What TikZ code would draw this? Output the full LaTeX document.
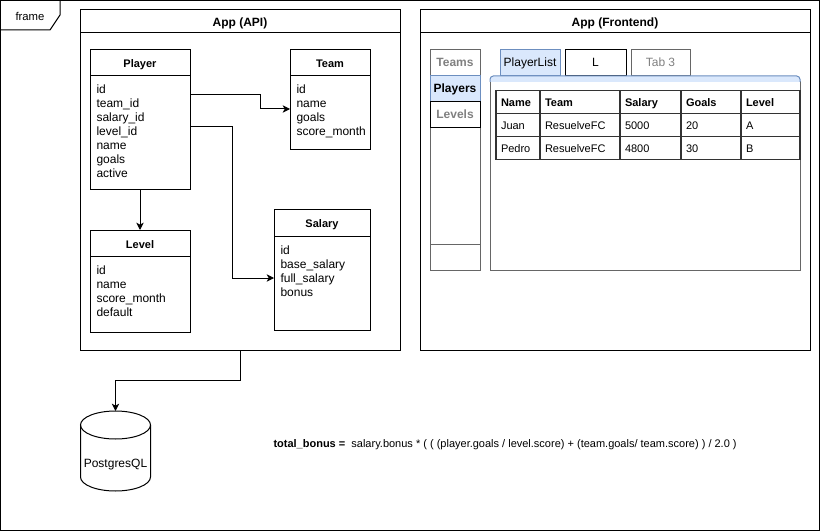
\documentclass[tikz,border=0pt]{standalone}
\usepackage{fontspec}
\setmainfont{Liberation Sans}
\usetikzlibrary{arrows.meta,shapes,positioning,calc}
\definecolor{tabblue}{HTML}{DAE8FC}
\definecolor{tabline}{HTML}{6C8EBF}
\definecolor{uigray}{HTML}{666666}
\definecolor{txtgray}{HTML}{808080}
\definecolor{cellline}{HTML}{333333}
\tikzset{
  pxw/.style    = {minimum width=#1*0.75pt},
  pxh/.style    = {minimum height=#1*0.75pt},
  basic/.style  = {draw, rectangle, inner sep=0pt, outer sep=0pt, line width=0.75pt},
  container/.style = {basic, anchor=north west},
  apptitle/.style  = {basic, anchor=north, pxh=23, text height=8pt, text depth=0pt,
                   font=\fontsize{9}{10}\selectfont\bfseries},
  ehead/.style  = {basic, anchor=north west, pxh=26, text height=7.5pt, text depth=0pt,
                   font=\fontsize{8.25}{10}\selectfont\bfseries},
  ebody/.style  = {basic, below=0pt of #1},
  field/.style  = {anchor=base west, inner sep=0pt, font=\fontsize{9}{10.5}\selectfont},
  sideitem/.style = {basic, anchor=north west, pxw=50, pxh=26, draw=uigray,
                   text height=7pt, text depth=1pt, font=\fontsize{9}{10}\selectfont\bfseries},
  tabbox/.style = {basic, anchor=north west, pxh=26, text height=7pt, text depth=1pt,
                   font=\fontsize{9}{10}\selectfont},
  cell/.style   = {basic, anchor=north west, pxh=23, draw=cellline, line width=1.3pt,
                   align=left, inner xsep=3.75pt, text height=7pt, text depth=0.5pt,
                   font=\fontsize{8.25}{10}\selectfont}
}

\begin{document}
\begin{tikzpicture}[x=0.75pt, y=-0.75pt, line width=0.75pt,
  >={Stealth[length=5.5pt, width=5.5pt, inset=1.5pt]}]
\useasboundingbox (0,0) rectangle (821,531);

% outer frame with its label
\draw (0.5,0.5) rectangle (819.5,530);
\draw (0.5,30) -- (50,30) -- (60,15) -- (60,0.5);
\node[font=\fontsize{8.5}{10}\selectfont] (frameLbl) at (30,16) {frame};

% the two containers
\node[container, pxw=320, pxh=340] (api) at (80,10) {};
\node[apptitle, pxw=320] (apiT) at (api.north) {App (API)};
\node[container, pxw=390, pxh=340] (fe) at (420,10) {};
\node[apptitle, pxw=390] (feT) at (fe.north) {App (Frontend)};

% entities of the API
\node[ehead, pxw=100] (plhead) at (90,50) {Player};
\node[ebody=plhead, pxw=100, pxh=114] (plbody) {};
\node[ehead, pxw=80] (tmhead) at (290,50) {Team};
\node[ebody=tmhead, pxw=80, pxh=74] (tmbody) {};
\node[ehead, pxw=100] (lvhead) at (90,230) {Level};
\node[ebody=lvhead, pxw=100, pxh=76] (lvbody) {};
\node[ehead, pxw=96] (sahead) at (274,210) {Salary};
\node[ebody=sahead, pxw=96, pxh=94] (sabody) {};

% fields, one node per line
\foreach \f [count=\i] in {id,team\_id,salary\_id,level\_id,name,goals,active}
  \node[field] (pl\i) at ($(plbody.north west)+(6,{4+14*\i})$) {\f};
\foreach \f [count=\i] in {id,name,goals,score\_month}
  \node[field] (tm\i) at ($(tmbody.north west)+(6,{4+14*\i})$) {\f};
\foreach \f [count=\i] in {id,name,score\_month,default}
  \node[field] (lv\i) at ($(lvbody.north west)+(6,{4+14*\i})$) {\f};
\foreach \f [count=\i] in {id,base\_salary,full\_salary,bonus}
  \node[field] (sa\i) at ($(sabody.north west)+(6,{4+14*\i})$) {\f};

% relations
\draw[->] ($(plbody.north east)+(0,19)$) -- ++(70,0) |- ($(tmbody.north west)+(0,33)$);
\draw[->] ($(plbody.north east)+(0,51)$) -- ++(42,0) |- ($(sabody.north west)+(0,42)$);
\draw[->] (plbody.south) -- (lvhead.north);

% database
\node[font=\fontsize{9}{10}\selectfont, inner sep=0pt] (db) at (115.5,465) {PostgresQL};
\coordinate (dbtop) at ($(db.center)+(0,-54)$);
\draw ($(db.center)+(-35,-40)$) -- ($(db.center)+(-35,12)$)
  arc[start angle=180, end angle=0, x radius=35, y radius=14] -- ($(db.center)+(35,-40)$);
\draw ($(db.center)+(0,-40)$) ellipse [x radius=35, y radius=14];
\draw[->] (api.south) -- ++(0,30) -| (dbtop);

% frontend: side menu
\node[container, draw=uigray, pxw=50, pxh=220] (side) at (430,50) {};
\node[sideitem, text=txtgray] (sTeams) at (430,50) {Teams};
\node[sideitem, fill=tabblue, draw=tabline, below=0pt of sTeams] (sPlayers) {Players};
\node[sideitem, draw=black, text=txtgray, below=0pt of sPlayers] (sLevels) {Levels};
\node[sideitem, anchor=south west] (sBottom) at (side.south west) {};

% frontend: tabs and panel
\node[tabbox, pxw=60, fill=tabblue, draw=tabline] (tPlayerList) at (500,50) {PlayerList};
\node[tabbox, pxw=61, draw=black] (tL) at (565,50) {L};
\node[tabbox, pxw=59, draw=uigray, text=txtgray] (tTab3) at (631,50) {Tab 3};
\node[container, draw=uigray, pxw=310, pxh=188] (panel) at (490,82) {};
\draw[tabline, fill=tabblue, rounded corners=2.5pt] (panel.north west) -- ++(0,-6)
  -- ($(panel.north east)+(0,-6)$) -- (panel.north east);

% frontend: table of players
\foreach \x/\w/\t [count=\c] in {496/44/Name,540/80/Team,620/61/Salary,681/60/Goals,741/59/Level}
  \node[cell, pxw=\w, text width={(\w-10)*0.75pt}, font=\fontsize{8.25}{10}\selectfont\bfseries] (h\c) at (\x,90.5) {\t};
\foreach \x/\w/\t [count=\c] in {496/44/Juan,540/80/ResuelveFC,620/61/5000,681/60/20,741/59/A}
  \node[cell, pxw=\w, text width={(\w-10)*0.75pt}] (a\c) at (\x,113.5) {\t};
\foreach \x/\w/\t [count=\c] in {496/44/Pedro,540/80/ResuelveFC,620/61/4800,681/60/30,741/59/B}
  \node[cell, pxw=\w, text width={(\w-10)*0.75pt}] (b\c) at (\x,136.5) {\t};

% bonus formula
\node[anchor=west, inner sep=0pt, font=\fontsize{8.25}{10}\selectfont] (formula) at (273,445)
  {\textbf{total\_bonus =}\ \ salary.bonus * ( ( (player.goals / level.score) + (team.goals/ team.score) ) / 2.0 )};
\end{tikzpicture}
\end{document}
